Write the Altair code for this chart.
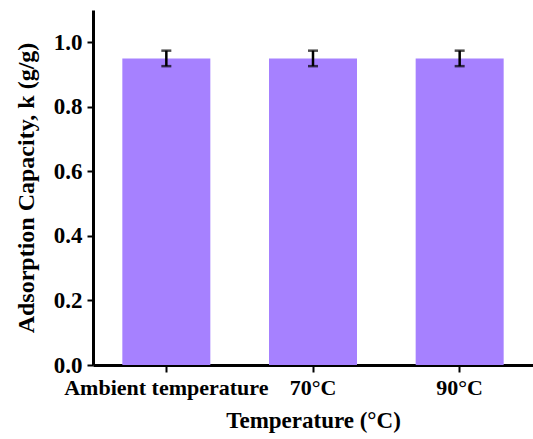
import altair as alt
import pandas as pd

categories = ["Ambient temperature", "70°C", "90°C"]
values = [0.95, 0.95, 0.95]
errors = [0.024, 0.024, 0.024]

df = pd.DataFrame({"cat": categories, "val": values, "err": errors})
df["lo"] = df["val"] - df["err"]
df["hi"] = df["val"] + df["err"]

FONT = "Liberation Serif"

x = alt.X("cat:N", sort=categories,
          scale=alt.Scale(paddingInner=0.4, paddingOuter=0.2),
          axis=alt.Axis(title="Temperature (°C)", labelAngle=0, labelLimit=0,
                        labelFont=FONT, labelFontSize=22, labelFontWeight="bold",
                        labelColor="black", titleFont=FONT, titleFontSize=23,
                        titleFontWeight="bold", titleColor="black",
                        domainColor="black", domainWidth=3, tickColor="black",
                        tickWidth=2, tickSize=7, labelPadding=5, titlePadding=11))

ybase = alt.Scale(domain=[0, 1.1], nice=False)

bars = alt.Chart(df).mark_bar(color="#A681FF").encode(
    x=x,
    y=alt.Y("val:Q", scale=ybase,
            axis=alt.Axis(title="Adsorption Capacity, k (g/g)", values=[0, 0.2, 0.4, 0.6, 0.8, 1.0],
                          format=".1f", grid=False,
                          labelFont=FONT, labelFontSize=23, labelFontWeight="bold",
                          labelColor="black", titleFont=FONT, titleFontSize=24,
                          titleFontWeight="bold", titleColor="black",
                          domainColor="black", domainWidth=3, tickColor="black",
                          tickWidth=2, tickSize=6, labelPadding=5, titlePadding=15)),
)

rule = alt.Chart(df).mark_rule(color="black", strokeWidth=2.5).encode(
    x=alt.X("cat:N", sort=categories),
    y=alt.Y("lo:Q", scale=ybase),
    y2="hi:Q",
)
caps_lo = alt.Chart(df).mark_tick(color="black", thickness=2.5, size=10, orient="horizontal").encode(
    x=alt.X("cat:N", sort=categories),
    y=alt.Y("lo:Q", scale=ybase),
)
caps_hi = alt.Chart(df).mark_tick(color="black", thickness=2.5, size=10, orient="horizontal").encode(
    x=alt.X("cat:N", sort=categories),
    y=alt.Y("hi:Q", scale=ybase),
)

chart = alt.layer(bars, rule, caps_lo, caps_hi).properties(
    width=440, height=355,
    autosize=alt.AutoSizeParams(type="none"),
    padding={"left": 93, "top": 10, "right": 0, "bottom": 74},
).configure_view(stroke=None).configure_axis(grid=False)

chart.save("out.html", embed_options={"renderer": "svg", "actions": False})
